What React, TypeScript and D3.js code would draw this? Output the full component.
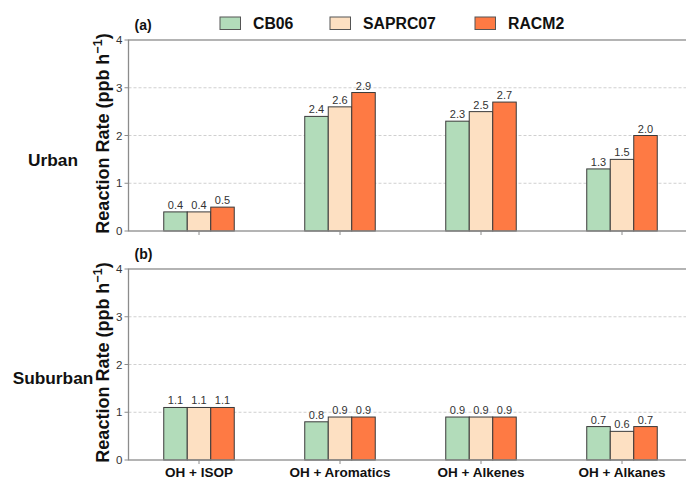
import React from "react";
import * as d3 from "d3";

const categories = ["OH + ISOP", "OH + Aromatics", "OH + Alkenes", "OH + Alkanes"];
const mechanisms = ["CB06", "SAPRC07", "RACM2"];
const colors = ["#b2dcba", "#fde0c2", "#fe7a44"];

// values per category, ordered CB06, SAPRC07, RACM2
const urbanValues = [
  [0.4, 0.4, 0.5],
  [2.4, 2.6, 2.9],
  [2.3, 2.5, 2.7],
  [1.3, 1.5, 2.0],
];
const suburbanValues = [
  [1.1, 1.1, 1.1],
  [0.8, 0.9, 0.9],
  [0.9, 0.9, 0.9],
  [0.7, 0.6, 0.7],
];
const yTicks = [0, 1, 2, 3, 4];

const W = 686;
const H = 478;
const FONT = "'Liberation Sans', Arial, Helvetica, sans-serif";

const xScale = d3.scaleBand<string>().domain(categories).range([128.5, 692.5]).padding(0);
const barW = xScale.bandwidth() / 6;
const center = (c: string) => (xScale(c) as number) + xScale.bandwidth() / 2;

const panels = [
  { tag: "(a)", site: "Urban", values: urbanValues, top: 40, bottom: 231, siteY: 166 },
  { tag: "(b)", site: "Suburban", values: suburbanValues, top: 269, bottom: 460, siteY: 384 },
];

function Panel({ p, showX }: { p: (typeof panels)[number]; showX: boolean }) {
  const y = d3.scaleLinear().domain([0, 4]).range([p.bottom, p.top]);
  const x0 = xScale.range()[0];
  const x1 = xScale.range()[1];
  const mid = (p.top + p.bottom) / 2 - 2;
  return (
    <g>
      {yTicks.slice(1, 4).map((t) => (
        <line key={t} x1={x0} x2={x1} y1={y(t)} y2={y(t)} stroke="#c4c4c4" strokeWidth={0.8} strokeDasharray="3,2" />
      ))}
      {categories.map((c, i) =>
        p.values[i].map((v, j) => {
          const bx = center(c) + (j - 1.5) * barW;
          return (
            <g key={c + j}>
              <rect x={bx} y={y(v)} width={barW} height={y(0) - y(v)} fill={colors[j]} stroke="#3a3a3a" strokeWidth={1} />
              <text x={bx + barW / 2} y={y(v) - 3} textAnchor="middle" fontSize={11} fill="#333" fontFamily={FONT}>
                {d3.format(".1f")(v)}
              </text>
            </g>
          );
        })
      )}
      <rect x={x0} y={p.top} width={x1 - x0} height={p.bottom - p.top} fill="none" stroke="#8c8c8c" strokeWidth={1.3} />
      {yTicks.map((t) => (
        <g key={t}>
          <line x1={x0 - 4} x2={x0} y1={y(t)} y2={y(t)} stroke="#8c8c8c" strokeWidth={1} />
          <text x={x0 - 6} y={y(t) + 4} textAnchor="end" fontSize={11.5} fill="#333" fontFamily={FONT}>
            {t}
          </text>
        </g>
      ))}
      {categories.map((c) => (
        <line key={c} x1={center(c)} x2={center(c)} y1={p.bottom} y2={p.bottom + 4} stroke="#8c8c8c" strokeWidth={1} />
      ))}
      {showX &&
        categories.map((c) => (
          <text key={c} x={center(c)} y={476.5} textAnchor="middle" fontSize={13.5} fontWeight="bold" fill="#111" fontFamily={FONT}>
            {c}
          </text>
        ))}
      <text x={134.5} y={p.top - 10} fontSize={14} fontWeight="bold" fill="#111" fontFamily={FONT}>
        {p.tag}
      </text>
      <text x={53} y={p.siteY} textAnchor="middle" fontSize={17.3} fontWeight="bold" fill="#111" fontFamily={FONT}>
        {p.site}
      </text>
      <text
        transform={`translate(108.5, ${mid}) rotate(-90)`}
        textAnchor="middle"
        fontSize={18}
        fontWeight="bold"
        fill="#111"
        fontFamily={FONT}
      >
        Reaction Rate (ppb h
        <tspan fontSize={12.5} dy={-7}>
          −1
        </tspan>
        <tspan dy={7}>)</tspan>
      </text>
    </g>
  );
}

export default function App() {
  const legendX = [220, 330, 475];
  return (
    <svg width={W} height={H} style={{ position: "absolute", left: 0, top: 0, background: "#fff" }}>
      <rect width={W} height={H} fill="#fff" />
      {panels.map((p, i) => (
        <Panel key={p.tag} p={p} showX={i === panels.length - 1} />
      ))}
      {mechanisms.map((m, j) => (
        <g key={m}>
          <rect x={legendX[j]} y={17} width={20.5} height={12.5} fill={colors[j]} stroke="#555" strokeWidth={1} />
          <text x={legendX[j] + 33} y={29.3} fontSize={15.8} fontWeight="bold" fill="#111" fontFamily={FONT}>
            {m}
          </text>
        </g>
      ))}
    </svg>
  );
}
